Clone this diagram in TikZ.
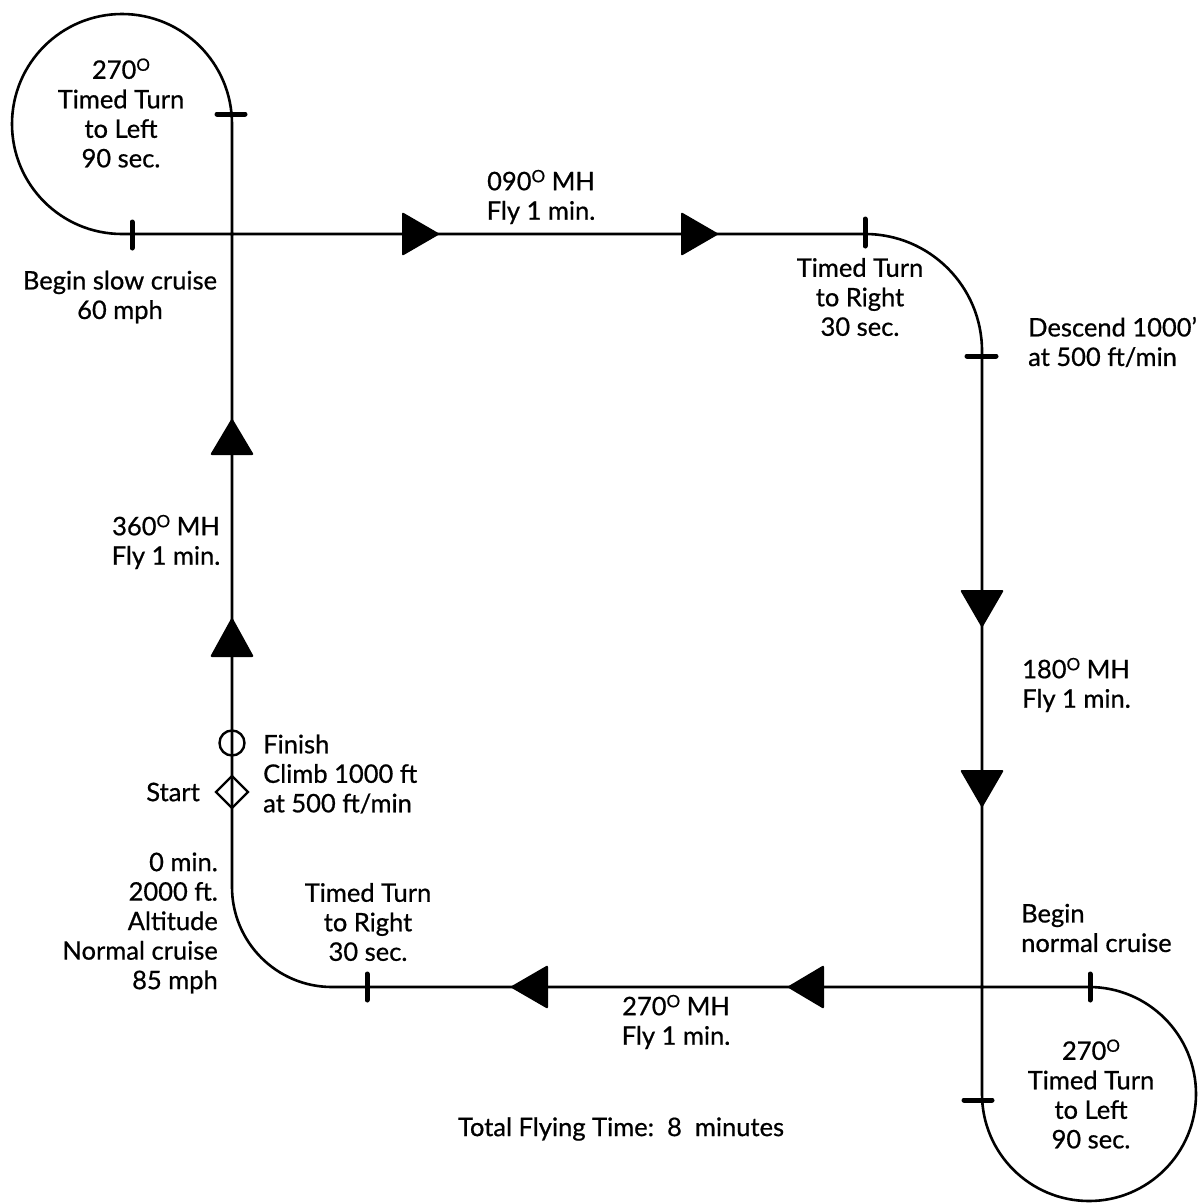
\documentclass[tikz,border=0pt]{standalone}
\usepackage{fontspec}
\setmainfont{Lato}
\newfontfamily\lblfont{Lato}[FakeBold=0.7]
\newcommand\dgr{\raisebox{0.62ex}{\fontsize{17}{17}\selectfont O}}
\begin{document}
\begin{tikzpicture}[x=1pt,y=-1pt,
  route/.style={line width=2.6pt,line join=round},
  tickmark/.style={line width=5pt,line cap=round},
  tri/.style={fill=black,rounded corners=2pt},
  lbl/.style={font=\lblfont\fontsize{25.5}{29.5}\selectfont,inner sep=0pt},
  sefmark/.style={line width=2.4pt}]
\useasboundingbox (0,0) rectangle (1201,1203);
% key points of the route
\coordinate (start) at (232,792);
\coordinate (tlr) at (232,124);
\coordinate (tlb) at (122,234);
\coordinate (trs) at (865,234);
\coordinate (tre) at (982,351);
\coordinate (brl) at (982,1094);
\coordinate (brt) at (1089,987);
\coordinate (bls) at (332,987);
\coordinate (ble) at (232,887);
% route
\draw[route] (start) -- (tlr) arc[start angle=0,end angle=270,radius=110pt]
  -- (trs) arc[start angle=90,end angle=0,radius=117pt]
  -- (brl) arc[start angle=180,end angle=450,radius=107pt]
  -- (bls) arc[start angle=270,end angle=180,radius=100pt] -- (start);
% ticks
\draw[tickmark] (217,114) -- (245,114);
\draw[tickmark] (132,222) -- (132,248);
\draw[tickmark] (865,219) -- (865,246);
\draw[tickmark] (967,356) -- (996,356);
\draw[tickmark] (964,1100) -- (992,1100);
\draw[tickmark] (1090,974) -- (1090,1000);
\draw[tickmark] (367,974) -- (367,1000);
% arrowheads
\fill[tri] (402,212) -- (440,234) -- (402,256) -- cycle;
\fill[tri] (681,212) -- (719,234) -- (681,256) -- cycle;
\fill[tri] (210,455) -- (232,418) -- (254,455) -- cycle;
\fill[tri] (210,657) -- (232,617) -- (254,657) -- cycle;
\fill[tri] (960,590) -- (982,628) -- (1004,590) -- cycle;
\fill[tri] (960,770) -- (982,808) -- (1004,770) -- cycle;
\fill[tri] (548,965) -- (510,987) -- (548,1009) -- cycle;
\fill[tri] (824,965) -- (787,987) -- (824,1009) -- cycle;
% finish / start markers
\draw[sefmark] (232,743) circle[radius=12.5pt];
\draw[sefmark] (232,776) -- (248,792) -- (232,808) -- (216,792) -- cycle;
% labels
\node[lbl,align=center] (tlloop) at (121,113) {270\dgr\\Timed Turn\\to Left\\90 sec.};
\node[lbl,align=center] (slow) at (120,297) {Begin slow cruise\\60 mph};
\node[lbl,align=center] (east) at (541,197) {090\dgr{} MH\\Fly 1 min.};
\node[lbl,align=center] (trturn) at (860,297) {Timed Turn\\to Right\\30 sec.};
\node[lbl,align=left,anchor=west] (desc) at (1028,342) {Descend 1000’\\at 500 ft/min};
\node[lbl,align=center] (north) at (166,542) {360\dgr{} MH\\Fly 1 min.};
\node[lbl,align=left,anchor=west] (south) at (1022,685) {180\dgr{} MH\\Fly 1 min.};
\node[lbl,align=left,anchor=west] (finish) at (263,774) {Finish\\Climb 1000 ft\\at 500 ft/min};
\node[lbl,anchor=east] (startlbl) at (200,792) {Start};
\node[lbl,align=right,anchor=east] (init) at (218,923) {0 min.\\2000 ft.\\Altitude\\Normal cruise\\85 mph};
\node[lbl,align=center] (blturn) at (368,922) {Timed Turn\\to Right\\30 sec.};
\node[lbl,align=center] (west) at (676,1022) {270\dgr{} MH\\Fly 1 min.};
\node[lbl,align=left,anchor=west] (normal) at (1021,928) {Begin\\normal cruise};
\node[lbl,align=center] (brloop) at (1091,1094) {270\dgr\\Timed Turn\\to Left\\90 sec.};
\node[lbl] (total) at (621,1129) {Total Flying Time:\ \ 8\ \ minutes};
\end{tikzpicture}
\end{document}
